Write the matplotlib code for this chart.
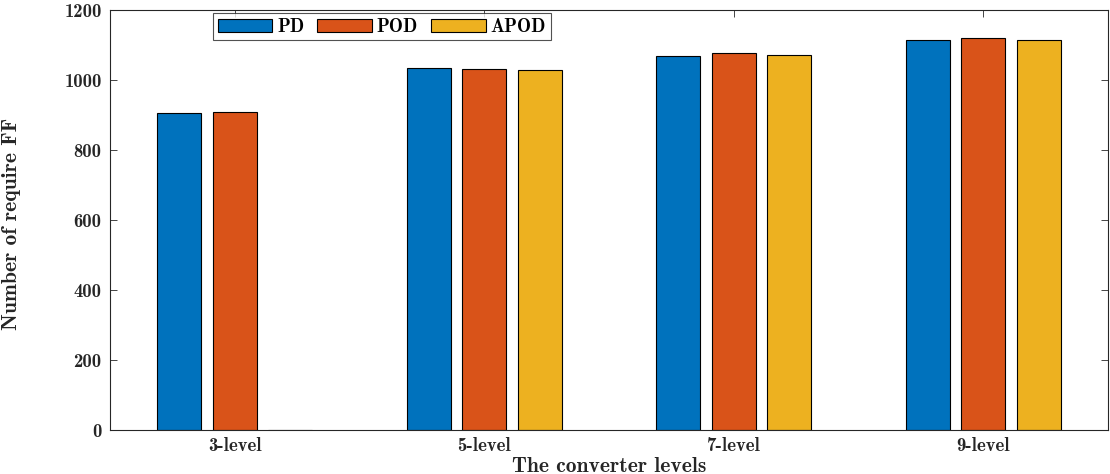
import os
import numpy as np
import matplotlib
matplotlib.use("Agg")
import matplotlib.pyplot as plt
from matplotlib import font_manager

# Computer Modern bold shipped with matplotlib
cm_bold = os.path.join(matplotlib.get_data_path(), "fonts", "ttf", "cmb10.ttf")
font_manager.fontManager.addfont(cm_bold)
cm_name = font_manager.FontProperties(fname=cm_bold).get_name()
plt.rcParams["font.family"] = [cm_name, "DejaVu Serif"]
plt.rcParams["axes.unicode_minus"] = False

categories = ["3-level", "5-level", "7-level", "9-level"]
series_names = ["PD", "POD", "APOD"]
pd_vals = [905, 1033, 1069, 1113]
pod_vals = [909, 1031, 1076, 1121]
apod_vals = [0, 1028, 1071, 1114]
y_ticks = [0, 200, 400, 600, 800, 1000, 1200]

colors = ["#0072BD", "#D95319", "#EDB120"]
axis_color = "#262626"

fig = plt.figure(figsize=(11.10, 4.74), dpi=100)
ax = fig.add_axes([110 / 1110, 44 / 474, 998 / 1110, 420 / 474])

x = np.arange(1, len(categories) + 1)
group_w = 3 / 4.5
step = group_w / 3
bar_w = 0.8 * step
for i, (vals, name) in enumerate(zip([pd_vals, pod_vals, apod_vals], series_names)):
    ax.bar(x + (i - 1) * step, vals, width=bar_w, color=colors[i],
           edgecolor="black", linewidth=0.8, label=name, zorder=2)

ax.set_xlim(0.5, 4.5)
ax.set_ylim(0, 1200)
ax.set_xticks(x)
ax.set_xticklabels(categories)
ax.set_yticks(y_ticks)

for s in ax.spines.values():
    s.set_color(axis_color)
    s.set_linewidth(0.8)
ax.tick_params(direction="in", length=5, width=0.6, colors=axis_color,
               top=True, right=True, labelsize=13.5, labelcolor="#262626")
ax.tick_params(axis="y", pad=6)
ax.tick_params(axis="x", pad=5)

ax.set_xlabel("The converter levels", fontsize=15.5, color="#262626", va="center")
ax.set_ylabel("Number of require FF", fontsize=15.5, color="#262626", va="center")
ax.xaxis.set_label_coords(0.5, -36 / 420)
ax.yaxis.set_label_coords(-98 / 998, 0.49)

leg = ax.legend(ncol=3, loc="upper left", bbox_to_anchor=(213 / 1110, 1 - 13 / 474),
                bbox_transform=fig.transFigure, fontsize=13.5, frameon=True,
                fancybox=False, edgecolor=axis_color, handlelength=2.9,
                handleheight=0.7, handletextpad=0.27, columnspacing=0.7,
                borderpad=0.25, borderaxespad=0)
leg.get_frame().set_linewidth(0.8)

fig.savefig("out.png", dpi=100)
